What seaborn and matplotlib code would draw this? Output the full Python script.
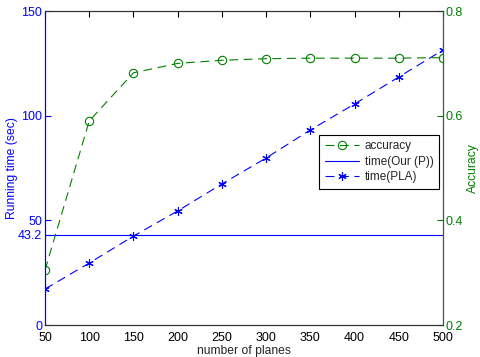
import numpy as np
import pandas as pd
import matplotlib
matplotlib.use("Agg")
import matplotlib.pyplot as plt
import seaborn as sns

planes = [50, 100, 150, 200, 250, 300, 350, 400, 450, 500]
accuracy = [0.305, 0.590, 0.682, 0.700, 0.706, 0.709, 0.710, 0.710, 0.710, 0.711]
time_pla = [17.2, 29.6, 42.5, 54.5, 67.4, 79.8, 93.2, 105.6, 118.5, 131.4]
time_our = [43.2] * len(planes)

blue = (0, 0, 1)
green = (0, 0.5, 0)

sns.set_style("white")
plt.rcParams['font.family'] = ['Liberation Sans', 'DejaVu Sans']
plt.rcParams['font.size'] = 9

df = pd.DataFrame({"planes": planes, "accuracy": accuracy,
                   "pla": time_pla, "our": time_our})

fig = plt.figure(figsize=(4.81, 3.57), dpi=100)
ax1 = fig.add_axes([0.0936, 0.0896, 0.8274, 0.8794])
ax2 = ax1.twinx()

sns.lineplot(data=df, x="planes", y="our", ax=ax1, color=blue, lw=0.8,
             label="time(Our (P))", legend=False)
sns.lineplot(data=df, x="planes", y="pla", ax=ax1, color=blue, lw=0.8,
             linestyle=(0, (8, 5)), marker=(6, 2, 0), markersize=6,
             markeredgecolor=blue, markeredgewidth=0.8,
             label="time(PLA)", legend=False)
sns.lineplot(data=df, x="planes", y="accuracy", ax=ax2, color=green, lw=0.8,
             linestyle=(0, (8, 5)), marker="o", markersize=6,
             markerfacecolor="none", markeredgecolor=green, markeredgewidth=0.8,
             label="accuracy", legend=False)

ax1.set_xlim(50, 500)
ax1.set_ylim(0, 150)
ax2.set_ylim(0.2, 0.8)
ax1.set_xticks(planes)
ax1.set_yticks([0, 43.2, 50, 100, 150])
ax1.set_yticklabels(["0", "43.2", "50", "100", "150"])
ax2.set_yticks([0.2, 0.4, 0.6, 0.8])

ax1.set_xlabel("number of planes", fontsize=8.7, labelpad=1)
ax1.set_ylabel("Running time (sec)", color=blue, fontsize=8.7, labelpad=0)
ax2.set_ylabel("Accuracy", color=green, fontsize=8.7, labelpad=3)

ax1.tick_params(axis="x", direction="in", length=4, top=True, colors="black",
                pad=5)
ax1.tick_params(axis="y", direction="in", length=4, colors=blue, pad=2)
ax2.tick_params(axis="y", direction="in", length=4, colors=green, pad=2)

for sp in ax1.spines.values():
    sp.set_color("#333333")
    sp.set_linewidth(0.8)
ax1.spines["left"].set_color(blue)
ax2.spines["right"].set_color("#1f5f6f")
ax2.spines["left"].set_color(blue)
for s in ["top", "bottom"]:
    ax2.spines[s].set_color("#333333")

h1, l1 = ax1.get_legend_handles_labels()
h2, l2 = ax2.get_legend_handles_labels()
handles = h2 + h1
labels = l2 + l1
leg = ax2.legend(handles, labels, loc="upper right",
                 bbox_to_anchor=(0.99, 0.605), borderaxespad=0,
                 fontsize=8.5, frameon=True,
                 fancybox=False, edgecolor="black", framealpha=1,
                 handlelength=2.9, handletextpad=0.5, borderpad=0.45,
                 labelspacing=0.3)
leg.get_frame().set_linewidth(0.8)

fig.savefig("out.png", dpi=100)
